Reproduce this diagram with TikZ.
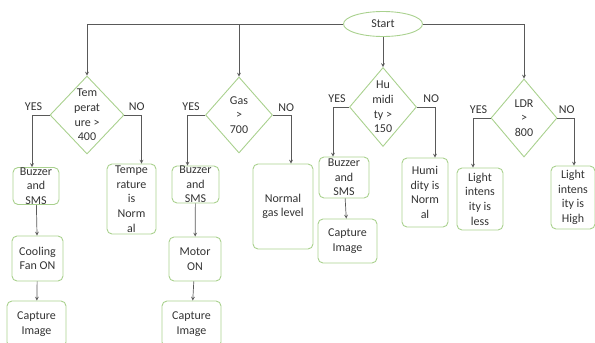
\documentclass[tikz,border=0pt]{standalone}
\usepackage{fontspec}
\setmainfont{Carlito}
\usetikzlibrary{shapes.geometric,positioning}
\definecolor{boxgreen}{HTML}{A9D18E}
\definecolor{linegray}{HTML}{595959}
\definecolor{textgray}{HTML}{333333}

\begin{document}
\begin{tikzpicture}[x=1pt,y=1pt,>=stealth,
  every node/.style={font=\fontsize{12}{14.6}\selectfont,text=textgray},
  flowbox/.style={draw=boxgreen,line width=0.9pt,rounded corners=5pt,align=center,inner sep=0pt},
  decision/.style={draw=boxgreen,line width=0.9pt,diamond,inner sep=0pt},
  flow/.style={->,draw=linegray,line width=0.7pt}]
  \useasboundingbox (0,0) rectangle (595,-343);
  % start
  \node[draw=boxgreen,line width=0.9pt,ellipse,inner sep=0pt,minimum width=79pt,minimum height=25pt] (start) at (383,-24) {Start};
  % decisions
  \node[decision,minimum width=74pt,minimum height=78pt,label={[align=center]center:Tem\\perat\\ure >\\400}] (temp) at (87,-115) {};
  \node[decision,minimum width=67pt,minimum height=76pt,label={[align=center]center:Gas\\>\\700}] (gas) at (239,-115) {};
  \node[decision,minimum width=67pt,minimum height=79pt,label={[align=center]center:Hu\\midi\\ty >\\150}] (hum) at (383,-107) {};
  \node[decision,minimum width=66pt,minimum height=78pt,label={[align=center]center:LDR\\>\\800}] (ldr) at (524,-118) {};
  % temperature branch
  \node[flowbox,minimum width=46pt,minimum height=37pt] (buzzA) at (36,-186) {Buzzer\\and\\SMS};
  \node[flowbox,minimum width=51pt,minimum height=45pt] (fan) at (37.5,-258.5) {Cooling\\Fan ON};
  \node[flowbox,minimum width=59pt,minimum height=46pt] (capA) at (36.5,-324) {Capture\\Image};
  \node[flowbox,minimum width=49pt,minimum height=70pt] (tempok) at (131.5,-199) {Tempe\\rature\\is\\Norm\\al};
  % gas branch
  \node[flowbox,minimum width=47pt,minimum height=37pt] (buzzB) at (195.5,-184.5) {Buzzer\\and\\SMS};
  \node[flowbox,minimum width=52pt,minimum height=44pt] (motor) at (195,-259) {Motor\\ON};
  \node[flowbox,minimum width=59pt,minimum height=46pt] (capB) at (191.5,-324) {Capture\\Image};
  \node[flowbox,minimum width=60pt,minimum height=85pt] (gasok) at (283,-206.5) {Normal\\gas level};
  % humidity branch
  \node[flowbox,minimum width=50pt,minimum height=41pt] (buzzC) at (344,-177.5) {Buzzer\\and\\SMS};
  \node[flowbox,minimum width=59pt,minimum height=44pt] (capC) at (347.5,-241) {Capture\\Image};
  \node[flowbox,minimum width=46pt,minimum height=69pt] (humok) at (425,-192.5) {Humi\\dity is\\Norm\\al};
  % light branch
  \node[flowbox,minimum width=46pt,minimum height=62pt] (ldrlow) at (480,-199) {Light\\intens\\ity is\\less};
  \node[flowbox,minimum width=44pt,minimum height=63pt] (ldrhigh) at (573,-197.5) {Light\\intens\\ity is\\High};
  % yes / no labels
  \node[above left=1pt and 4pt of temp.west] (tyes) {YES};
  \node[above right=1pt and 1pt of temp.east] (tno) {NO};
  \node[above left=1pt and 2pt of gas.west] (gyes) {YES};
  \node[above right=0pt and 2pt of gas.east] (gno) {NO};
  \node[above left=1pt and 0pt of hum.west] (hyes) {YES};
  \node[above right=1pt and 3pt of hum.east] (hno) {NO};
  \node[above left=1pt and 0pt of ldr.west] (lyes) {YES};
  \node[above right=1pt and -2pt of ldr.east] (lno) {NO};
  % connectors from start
  \draw[flow] (start.west) -| (temp.north);
  \draw[flow] (start.west -| gas.north) -- (gas.north);
  \draw[flow] (start.south) -- (hum.north);
  \draw[flow] (start.east) -| (ldr.north);
  % decision outputs
  \draw[flow] (temp.west) -| ([xshift=-4pt]buzzA.north);
  \draw[flow] (temp.east) -| ([xshift=10pt]tempok.north);
  \draw[flow] (gas.west) -| ([xshift=-8pt]buzzB.north);
  \draw[flow] (gas.east) -| ([xshift=8pt]gasok.north);
  \draw[flow] (hum.west) -| ([xshift=-11pt]buzzC.north);
  \draw[flow] (hum.east) -| ([xshift=10pt]humok.north);
  \draw[flow] (ldr.west) -| ([xshift=-7pt]ldrlow.north);
  \draw[flow] (ldr.east) -| ([xshift=1pt]ldrhigh.north);
  % actions
  \draw[flow] (buzzA) -- (fan);
  \draw[flow] (fan) -- (capA);
  \draw[flow] (buzzB) -- (motor);
  \draw[flow] (motor) -- (capB);
  \draw[flow] (buzzC) -- (capC);
\end{tikzpicture}
\end{document}
